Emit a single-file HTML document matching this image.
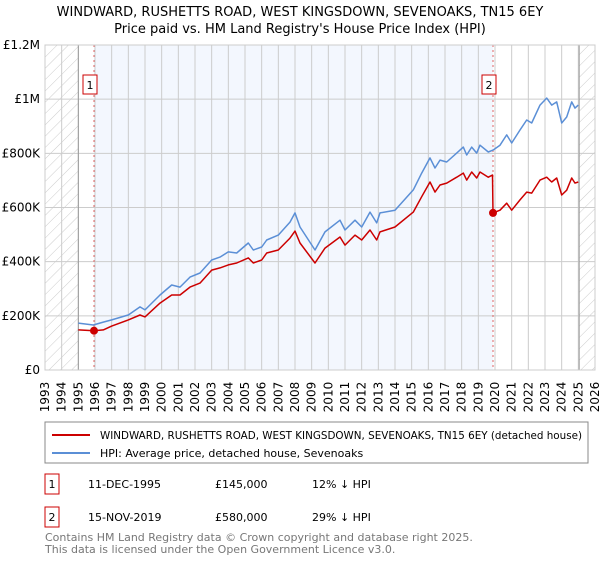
<!DOCTYPE html>
<html><head><meta charset="utf-8"><style>
body{margin:0;background:#fff;font-family:"Liberation Sans","DejaVu Sans",sans-serif;}
svg text{font-family:"DejaVu Sans","Liberation Sans",sans-serif;}
</style></head><body>
<svg id="chart" width="600" height="560" viewBox="0 0 600 560" xmlns="http://www.w3.org/2000/svg">
<defs>
<pattern id="hatch" patternUnits="userSpaceOnUse" width="8" height="8" patternTransform="rotate(45)">
<line x1="0" y1="0" x2="0" y2="8" stroke="#ccc" stroke-width="1"/></pattern>
</defs>
<text x="300" y="16" text-anchor="middle" font-size="13" fill="#000">WINDWARD, RUSHETTS ROAD, WEST KINGSDOWN, SEVENOAKS, TN15 6EY</text>
<text x="300" y="33" text-anchor="middle" font-size="13" fill="#000">Price paid vs. HM Land Registry's House Price Index (HPI)</text>
<g id="plot"></g>
<rect x="45" y="422" width="543" height="41" fill="#fff" stroke="#888"/>
<line x1="52" y1="435" x2="90" y2="435" stroke="#cc0000" stroke-width="2"/>
<text x="100" y="439" font-size="11" textLength="482" lengthAdjust="spacingAndGlyphs">WINDWARD, RUSHETTS ROAD, WEST KINGSDOWN, SEVENOAKS, TN15 6EY (detached house)</text>
<line x1="52" y1="453" x2="90" y2="453" stroke="#5b8fd6" stroke-width="2"/>
<text x="100" y="457" font-size="11">HPI: Average price, detached house, Sevenoaks</text>
<rect x="45" y="474" width="14" height="20" fill="#fff" stroke="#cc0000"/>
<text x="52" y="488" text-anchor="middle" font-size="11">1</text>
<text x="88" y="488" font-size="11">11-DEC-1995</text>
<text x="215" y="488" font-size="11">£145,000</text>
<text x="312" y="488" font-size="11">12% ↓ HPI</text>
<rect x="45" y="507" width="14" height="20" fill="#fff" stroke="#cc0000"/>
<text x="52" y="521" text-anchor="middle" font-size="11">2</text>
<text x="88" y="521" font-size="11">15-NOV-2019</text>
<text x="215" y="521" font-size="11">£580,000</text>
<text x="312" y="521" font-size="11">29% ↓ HPI</text>
<text x="45" y="541" font-size="11" fill="#777">Contains HM Land Registry data © Crown copyright and database right 2025.</text>
<text x="45" y="553" font-size="11" fill="#777">This data is licensed under the Open Government Licence v3.0.</text>
</svg>
<script>
const hpiYears=[1995.0,1995.9,1996.5,1997.0,1998.0,1998.7,1999.0,1999.9,2000.6,2001.1,2001.7,2002.3,2003.0,2003.5,2004.0,2004.5,2005.2,2005.5,2006.0,2006.3,2007.0,2007.7,2008.0,2008.3,2009.2,2009.8,2010.7,2011.0,2011.6,2012.0,2012.5,2012.9,2013.1,2014.0,2015.1,2015.6,2016.1,2016.4,2016.7,2017.1,2017.7,2018.1,2018.3,2018.6,2018.9,2019.1,2019.6,2019.88,2020.3,2020.7,2021.0,2021.5,2021.9,2022.2,2022.7,2023.1,2023.4,2023.7,2024.0,2024.3,2024.6,2024.8,2025.0];
const hpiValues=[173,166,177,185,203,233,222,277,314,306,343,358,406,417,436,432,469,443,454,480,498,546,580,528,443,510,553,517,553,528,583,543,580,590,665,727,783,746,775,768,801,823,794,823,801,830,805,812,830,868,838,886,923,912,978,1004,978,990,912,934,990,967,978];
const redYears=[1995.0,1995.94,1996.5,1997.0,1998.0,1998.7,1999.0,1999.9,2000.6,2001.1,2001.7,2002.3,2003.0,2003.5,2004.0,2004.5,2005.2,2005.5,2006.0,2006.3,2007.0,2007.7,2008.0,2008.3,2009.2,2009.8,2010.7,2011.0,2011.6,2012.0,2012.5,2012.9,2013.1,2014.0,2015.1,2015.6,2016.1,2016.4,2016.7,2017.1,2017.7,2018.1,2018.3,2018.6,2018.9,2019.1,2019.6,2019.85,2019.88,2020.3,2020.7,2021.0,2021.5,2021.9,2022.2,2022.7,2023.1,2023.4,2023.7,2024.0,2024.3,2024.6,2024.8,2025.0];
const redValues=[148,145,148,162,185,203,196,247,277,277,306,321,369,377,388,395,414,395,406,432,443,487,513,469,395,450,491,461,498,480,517,480,510,528,583,640,694,657,683,690,712,727,701,731,709,731,712,720,580,590,616,590,628,657,653,701,712,694,709,646,664,709,690,694];
const saleYears=[1995.94,2019.88];
const saleValues=[145,580];
const saleLabels=["1","2"];
const yTickValues=[0,200,400,600,800,1000,1200];
const yTickLabels=["£0","£200K","£400K","£600K","£800K","£1M","£1.2M"];
const xMin=1993,xMax=2026,yMax=1200;
const L=45,R=595,T=45,B=370;
const sx=v=>L+(v-xMin)/(xMax-xMin)*(R-L);
const sy=v=>B-v/yMax*(B-T);
const NS="http://www.w3.org/2000/svg";
const g=document.getElementById('plot');
function mk(tag,attrs,parent){const e=document.createElementNS(NS,tag);for(const k in attrs)e.setAttribute(k,attrs[k]);(parent||g).appendChild(e);return e;}
let e;
e=mk('rect',{x:L,y:T,width:R-L,height:B-T,fill:'#fff'});


e=mk('rect',{x:sx(saleYears[0]),y:T,width:sx(saleYears[1])-sx(saleYears[0]),height:B-T,fill:'#f3f7fe'});


e=mk('rect',{x:L,y:T,width:sx(1995)-L,height:B-T,fill:'url(#hatch)'});


e=mk('rect',{x:sx(2025.05),y:T,width:R-sx(2025.05),height:B-T,fill:'url(#hatch)'});


for(let y=xMin;y<=xMax;y++){
 e=mk('line',{x1:sx(y),x2:sx(y),y1:T,y2:B,stroke:'#ccc','stroke-width':1});
 
 
 e=mk('text',{x:0,y:0,transform:`translate(${sx(y)+4},${B+27}) rotate(-90)`,'font-size':12,'text-anchor':'middle'});
 e.textContent=String(y);
 
 
}
yTickValues.forEach((v,i)=>{
 e=mk('line',{x1:L,x2:R,y1:sy(v),y2:sy(v),stroke:'#ccc','stroke-width':1});
 
 
 e=mk('text',{x:L-5,y:sy(v)+4,'font-size':12,'text-anchor':'end'});
 e.textContent=yTickLabels[i];
 
 
});
e=mk('line',{x1:sx(1995),x2:sx(1995),y1:T,y2:B,stroke:'#999','stroke-width':1});


e=mk('line',{x1:sx(2025.05),x2:sx(2025.05),y1:T,y2:B,stroke:'#999','stroke-width':1});


saleYears.forEach((yr,i)=>{
 e=mk('line',{x1:sx(yr),x2:sx(yr),y1:T,y2:B,stroke:'#e06666','stroke-width':1,'stroke-dasharray':'2,3'});
 
 
});
const pts=(xs,ys)=>xs.map((x,i)=>sx(x).toFixed(1)+','+sy(ys[i]).toFixed(1)).join(' ');
e=mk('polyline',{points:pts(hpiYears,hpiValues),fill:'none',stroke:'#5b8fd6','stroke-width':1.5,'stroke-linejoin':'round'});


e=mk('polyline',{points:pts(redYears,redValues),fill:'none',stroke:'#cc0000','stroke-width':1.5,'stroke-linejoin':'round'});


saleYears.forEach((yr,i)=>{
 e=mk('circle',{cx:sx(yr),cy:sy(saleValues[i]),r:4,fill:'#cc0000'});
 
 
 e=mk('rect',{x:sx(yr)-11,y:75,width:14,height:19,fill:'#fff',stroke:'#cc0000'});
 
 
 e=mk('text',{x:sx(yr)-4,y:89,'font-size':11,'text-anchor':'middle'});
 e.textContent=saleLabels[i];
 
 
});
e=mk('rect',{x:L,y:T,width:R-L,height:B-T,fill:'none',stroke:'#ccc'});


</script>
</body></html>
